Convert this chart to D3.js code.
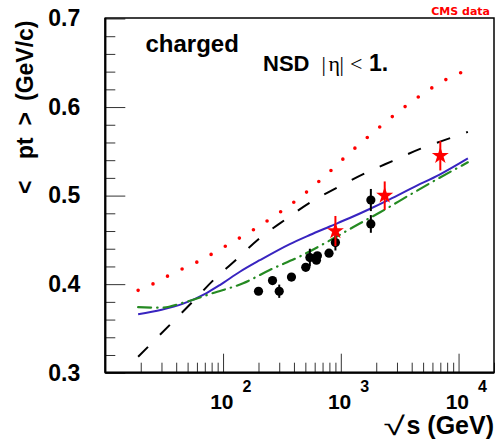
<!DOCTYPE html>
<html>
<head>
<meta charset="utf-8">
<script src="https://cdn.jsdelivr.net/npm/d3@7"></script>
<style>
  html, body { margin: 0; padding: 0; background: #fff; }
  svg { display: block; font-family: 'Liberation Sans', Arial, sans-serif; }
</style>
</head>
<body>
<div id="chart"></div>
<script>
// <pt> of charged particles vs sqrt(s), NSD |eta| < 1
const yTicks = [0.3, 0.4, 0.5, 0.6, 0.7];
const xDecades = [100, 1000, 10000];

// model curves: [sqrt(s) GeV, <pt> GeV/c]
const redDotted = [
  [19, 0.393], [21.7, 0.396], [37.3, 0.412], [64.4, 0.427], [108, 0.444], [184, 0.462],
  [303, 0.481], [491, 0.502], [774, 0.525], [1205, 0.549], [1914, 0.572],
  [3040, 0.594], [4980, 0.615], [8340, 0.633], [12000, 0.642]
];
const blackDashed = [
  [19, 0.318], [35.9, 0.355], [55.1, 0.380], [83.5, 0.405], [130, 0.428], [201, 0.451],
  [330, 0.472], [545, 0.492], [929, 0.509], [1596, 0.525], [2740, 0.539],
  [4770, 0.553], [8510, 0.565], [12000, 0.572]
];
const blueSolid = [
  [19, 0.366], [30.1, 0.371], [45.9, 0.378], [72.5, 0.390], [94, 0.399], [139, 0.414],
  [205, 0.427], [369, 0.4453], [545, 0.4555], [805, 0.4651], [1190, 0.4747],
  [1758, 0.4849], [2600, 0.4958], [4095, 0.5091], [6900, 0.5238], [12000, 0.5421]
];
const greenDashDot = [
  [19, 0.374], [29.6, 0.3734], [45.9, 0.379], [82.4, 0.390], [148, 0.401], [249, 0.416],
  [448, 0.4312], [778, 0.4482], [1446, 0.4685], [2138, 0.4809], [4095, 0.5029],
  [7030, 0.5207], [12000, 0.5376]
];

// data points: [sqrt(s), <pt>, error]
const blackPoints = [
  [200, 0.392, 0.003], [263, 0.404, 0.003], [300, 0.392, 0.0075], [381, 0.408, 0.003],
  [504, 0.419, 0.003], [546, 0.430, 0.010], [633, 0.432, 0.003], [621, 0.427, 0.003],
  [794, 0.435, 0.003], [900, 0.447, 0.009], [1800, 0.495, 0.0125], [1800, 0.468, 0.010]
];
const cmsPoints = [
  [900, 0.460, 0.017], [2360, 0.500, 0.016], [7000, 0.545, 0.0166]
];

const width = 498, height = 442;
const frameLeft = 105.3, frameRight = 494, frameTop = 18, frameBottom = 372.7;

const svg = d3.select('#chart').append('svg')
  .attr('width', width)
  .attr('height', height);

const x = d3.scaleLog().domain([10, 2e4]).range([frameLeft, frameRight]);
const y = d3.scaleLinear().domain([0.3, 0.7]).range([frameBottom, 18.5]);

// minor tick values
const xMinor = [];
[10, 100, 1000, 10000].forEach(d => {
  for (let k = 2; k <= 9; k++) if (d * k <= 2e4) xMinor.push(d * k);
});
const yMinor = d3.range(0.32, 0.7, 0.02).filter(v => Math.abs(v * 10 - Math.round(v * 10)) > 1e-6);

// x ticks (inside, pointing up)
const gx = svg.append('g').attr('transform', `translate(0,${frameBottom})`);
gx.append('g').call(d3.axisBottom(x).tickValues(xDecades).tickSize(-19).tickFormat(''))
  .call(g => g.select('.domain').remove());
gx.append('g').call(d3.axisBottom(x).tickValues(xMinor).tickSize(-10).tickFormat(''))
  .call(g => g.select('.domain').remove());
gx.selectAll('.tick line').attr('stroke', '#333').attr('stroke-width', 1);

// y ticks (inside, pointing right)
const gy = svg.append('g').attr('transform', `translate(${frameLeft},0)`);
gy.append('g').call(d3.axisLeft(y).tickValues(yTicks).tickSize(-20).tickPadding(25).tickFormat(d3.format('.1f')))
  .call(g => g.select('.domain').remove())
  .call(g => g.selectAll('text')
    .attr('font-family', 'Liberation Sans, Arial, sans-serif')
    .attr('font-size', 23).attr('font-weight', 'bold').attr('fill', '#000'));
gy.append('g').call(d3.axisLeft(y).tickValues(yMinor).tickSize(-10).tickFormat(''))
  .call(g => g.select('.domain').remove());
gy.selectAll('.tick line').attr('stroke', '#333').attr('stroke-width', 1);

// frame
svg.append('rect')
  .attr('x', frameLeft).attr('y', frameTop)
  .attr('width', frameRight - frameLeft).attr('height', frameBottom - frameTop)
  .attr('fill', 'none').attr('stroke', '#000').attr('stroke-width', 1.5);
svg.append('line')
  .attr('x1', frameLeft).attr('x2', frameRight).attr('y1', frameBottom).attr('y2', frameBottom)
  .attr('stroke', '#000').attr('stroke-width', 2.2);
svg.append('line')
  .attr('x1', frameLeft).attr('x2', frameLeft).attr('y1', frameTop).attr('y2', frameBottom)
  .attr('stroke', '#000').attr('stroke-width', 2.2);

// x decade labels
const xl = svg.append('g').attr('font-weight', 'bold').attr('fill', '#000');
xDecades.forEach((d, i) => {
  xl.append('text')
    .attr('x', x(d) + 10.5).attr('y', 408.5)
    .attr('text-anchor', 'end')
    .attr('font-size', 21)
    .text('10');
  xl.append('text')
    .attr('x', x(d) + 19.5).attr('y', 391.5)
    .attr('font-size', 16)
    .text(String(i + 2));
});

// axis titles
svg.append('text')
  .attr('transform', 'translate(405,435) scale(1.5,1)')
  .attr('text-anchor', 'end')
  .attr('font-size', 26)
  .text('√');
svg.append('text')
  .attr('x', 494).attr('y', 434)
  .attr('text-anchor', 'end')
  .attr('font-size', 25).attr('font-weight', 'bold')
  .text('s (GeV)');

const yTitle = svg.append('text')
  .attr('transform', 'translate(33,0) rotate(-90)')
  .attr('font-size', 23).attr('font-weight', 'bold');
yTitle.append('tspan').attr('x', -194).text('<');
yTitle.append('tspan').attr('x', -159).text('pt');
yTitle.append('tspan').attr('x', -125.5).text('>');
yTitle.append('tspan').attr('x', -101).text('(GeV/c)');

// curves
const line = d3.line().x(d => x(d[0])).y(d => y(d[1])).curve(d3.curveMonotoneX);
const plot = svg.append('g').attr('fill', 'none');

plot.append('path').datum(redDotted)
  .attr('d', line)
  .attr('stroke', '#ff0000').attr('stroke-width', 3.6)
  .attr('stroke-linecap', 'round')
  .attr('stroke-dasharray', '0,16.3');

plot.append('path').datum(blackDashed)
  .attr('d', line)
  .attr('stroke', '#000').attr('stroke-width', 2)
  .attr('stroke-dasharray', '14,17');

plot.append('path').datum(blueSolid)
  .attr('d', line)
  .attr('stroke', '#3824c0').attr('stroke-width', 2);

plot.append('path').datum(greenDashDot)
  .attr('d', line)
  .attr('stroke', '#258a22').attr('stroke-width', 2.2)
  .attr('stroke-linecap', 'round')
  .attr('stroke-dasharray', '13,6,0.5,6');

// black data points
const pts = svg.append('g');
pts.selectAll('line')
  .data(blackPoints)
  .join('line')
  .attr('x1', d => x(d[0])).attr('x2', d => x(d[0]))
  .attr('y1', d => y(d[1] - d[2])).attr('y2', d => y(d[1] + d[2]))
  .attr('stroke', '#000').attr('stroke-width', 2);
pts.selectAll('circle')
  .data(blackPoints)
  .join('circle')
  .attr('cx', d => x(d[0])).attr('cy', d => y(d[1]))
  .attr('r', 4.6)
  .attr('fill', '#000');

// CMS points
const cms = svg.append('g');
cms.selectAll('line')
  .data(cmsPoints)
  .join('line')
  .attr('x1', d => x(d[0])).attr('x2', d => x(d[0]))
  .attr('y1', d => y(d[1] - d[2])).attr('y2', d => y(d[1] + d[2]))
  .attr('stroke', '#ff0000').attr('stroke-width', 2);
cms.selectAll('path')
  .data(cmsPoints)
  .join('path')
  .attr('transform', d => `translate(${x(d[0])},${y(d[1])})`)
  .attr('d', d3.symbol(d3.symbolStar, 90))
  .attr('fill', '#ff0000');

// labels
svg.append('text')
  .attr('x', 145.5).attr('y', 52)
  .attr('font-size', 24).attr('font-weight', 'bold')
  .text('charged');

const nsd = svg.append('text').attr('y', 71).attr('font-size', 22);
nsd.append('tspan').attr('x', 263).attr('font-weight', 'bold').text('NSD');
const serif = 'Liberation Serif, serif';
nsd.append('tspan').attr('x', 321.5).attr('font-family', serif).text('|');
nsd.append('tspan').attr('x', 328.5).attr('font-family', serif).text('η');
nsd.append('tspan').attr('x', 339.5).attr('font-family', serif).text('|');
nsd.append('tspan').attr('x', 350).attr('font-family', serif).text('<');
nsd.append('tspan').attr('x', 369).attr('font-weight', 'bold').attr('font-size', 23).text('1.');

svg.append('text')
  .attr('x', 490).attr('y', 15)
  .attr('text-anchor', 'end')
  .attr('font-family', 'DejaVu Sans, sans-serif')
  .attr('font-size', 11).attr('font-weight', 'bold')
  .attr('fill', '#ff0000')
  .text('CMS data');
</script>
</body>
</html>
